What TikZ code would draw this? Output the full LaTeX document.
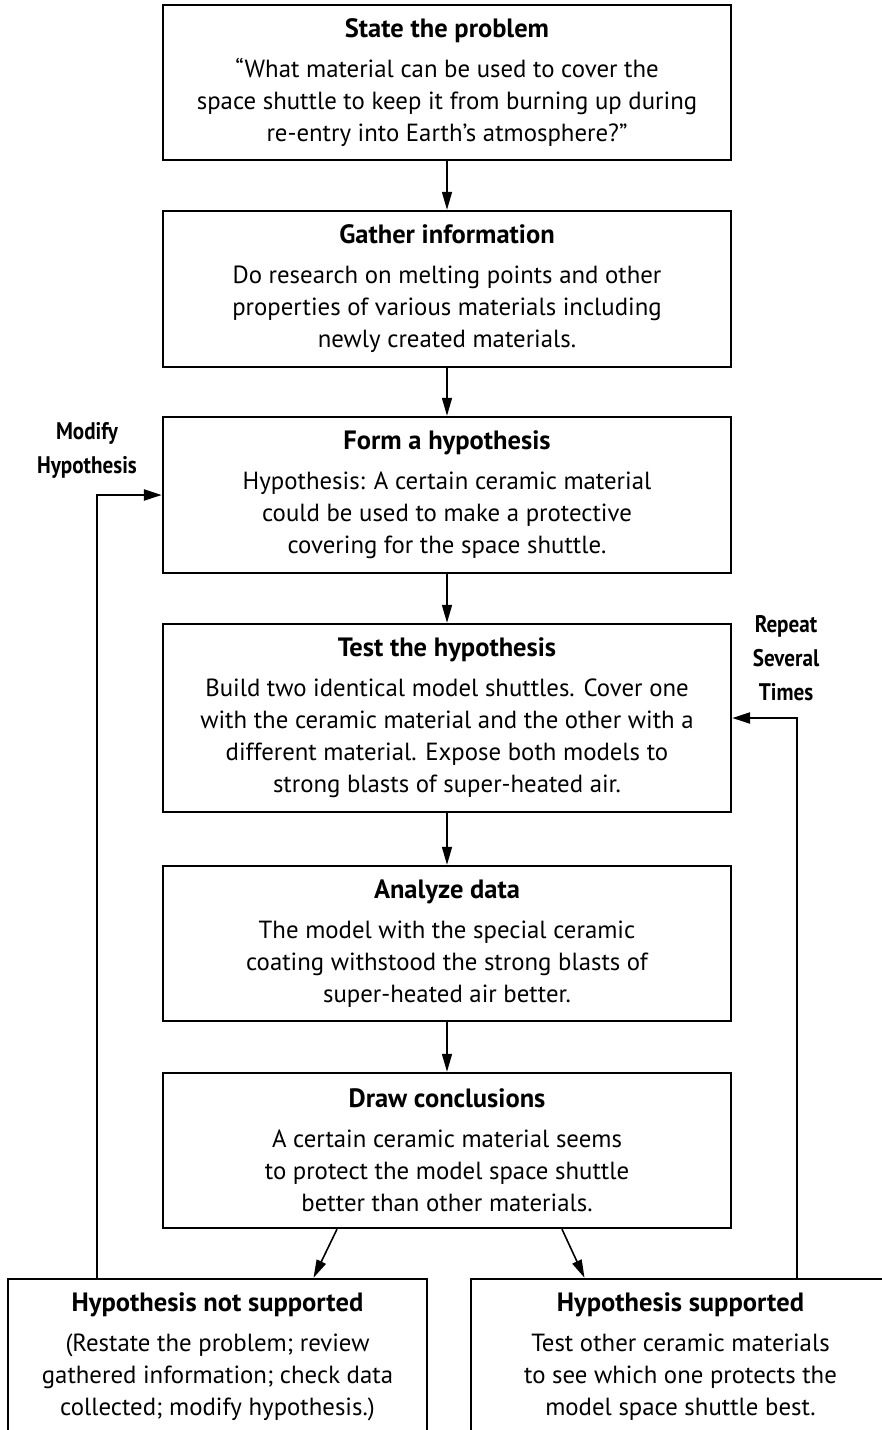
\documentclass[tikz,border=0pt]{standalone}
\usepackage{fontspec}
\setmainfont{PT Sans}
\newfontfamily\narrowfont[FakeStretch=0.88]{PT Sans}
\newcommand\boxtitle[1]{{\bfseries\fontsize{26.5}{32}\selectfont #1}}
\usetikzlibrary{arrows.meta,calc}

\begin{document}
\begin{tikzpicture}[x=1pt,y=-1pt,font=\fontsize{24.8}{32}\selectfont,
  stepbox/.style={draw,line width=2.4pt,minimum width=568pt,inner sep=0pt,align=center},
  endbox/.style={draw,line width=2.4pt,minimum width=419pt,minimum height=155pt,inner sep=0pt,align=center},
  arr/.style={-{Triangle[length=18pt,width=10pt]},line width=1.6pt},
  back/.style={-{Triangle[length=18pt,width=11pt]},line width=2.4pt},
  side/.style={font=\narrowfont\bfseries\fontsize{24}{34}\selectfont,align=center}]

\useasboundingbox (0,0) rectangle (882,1430);

\node[stepbox,minimum height=155pt] (state) at (447,82.5) {\boxtitle{State the problem}\\[8pt]
  “What material can be used to cover the\\
  space shuttle to keep it from burning up during\\
  re-entry into Earth’s atmosphere?”};
\node[stepbox,minimum height=156pt] (gather) at (447,289) {\boxtitle{Gather information}\\[8pt]
  Do research on melting points and other\\
  properties of various materials including\\
  newly created materials.};
\node[stepbox,minimum height=156pt] (form) at (447,495) {\boxtitle{Form a hypothesis}\\[8pt]
  Hypothesis: A certain ceramic material\\
  could be used to make a protective\\
  covering for the space shuttle.};
\node[stepbox,minimum height=188pt] (test) at (447,718) {\boxtitle{Test the hypothesis}\\[8pt]
  Build two identical model shuttles. Cover one\\
  with the ceramic material and the other with a\\
  different material. Expose both models to\\
  strong blasts of super-heated air.};
\node[stepbox,minimum height=155pt] (analyze) at (447,943.5) {\boxtitle{Analyze data}\\[8pt]
  The model with the special ceramic\\
  coating withstood the strong blasts of\\
  super-heated air better.};
\node[stepbox,minimum height=155pt] (concl) at (447,1150.5) {\boxtitle{Draw conclusions}\\[8pt]
  A certain ceramic material seems\\
  to protect the model space shuttle\\
  better than other materials.};
\node[endbox] (notsup) at (217.5,1356.5) {\boxtitle{Hypothesis not supported}\\[8pt]
  (Restate the problem; review\\
  gathered information; check data\\
  collected; modify hypothesis.)};
\node[endbox] (sup) at (680.5,1356.5) {\boxtitle{Hypothesis supported}\\[8pt]
  Test other ceramic materials\\
  to see which one protects the\\
  model space shuttle best.};

\node[side] (modify) at (87,450) {Modify\\Hypothesis};
\node[side] (repeat) at (786,658) {Repeat\\Several\\Times};

\draw[arr] (state) -- (gather);
\draw[arr] (gather) -- (form);
\draw[arr] (form) -- (test);
\draw[arr] (test) -- (analyze);
\draw[arr] (analyze) -- (concl);
\draw[arr] ([xshift=-110pt]concl.south) -- ([xshift=96pt]notsup.north);
\draw[arr] ([xshift=115pt]concl.south) -- ([xshift=-96pt]sup.north);

\draw[back] ([xshift=-120.5pt]notsup.north) |- (form.west);
\draw[back] ([xshift=116.5pt]sup.north) |- (test.east);

\end{tikzpicture}
\end{document}
